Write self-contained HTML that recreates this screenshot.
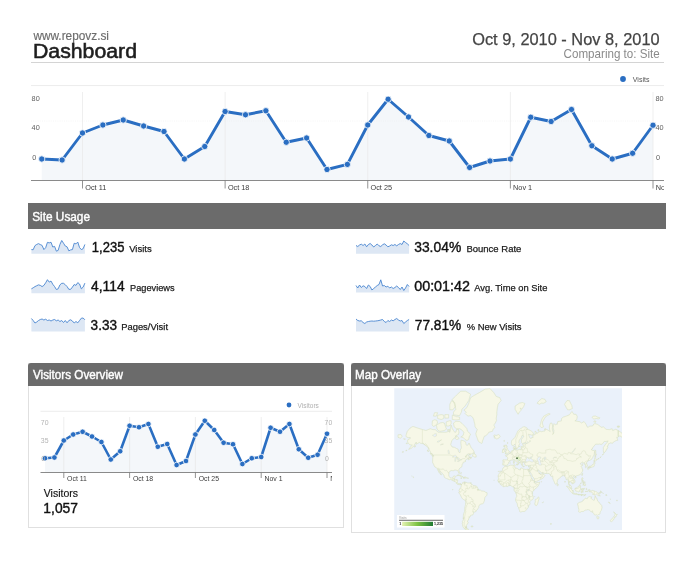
<!DOCTYPE html>
<html><head><meta charset="utf-8"><title>Dashboard</title>
<style>
html,body{margin:0;padding:0;background:#fff;}
body{width:700px;height:580px;position:relative;overflow:hidden;font-family:"Liberation Sans",sans-serif;color:#1a1a1a;}
.bar{position:absolute;background:#6b6b6b;color:#fff;}
svg{position:absolute;left:0;top:0;}
svg text{font-family:"Liberation Sans",sans-serif;}
.panel{position:absolute;border:1px solid #e0e0e0;box-sizing:border-box;background:#fff;}
</style></head><body>
<div style="position:absolute;left:31px;top:61.5px;width:633px;height:1px;background:#d4d4d4;"></div>

<div class="bar" style="left:28px;top:203.4px;width:637.5px;height:25.2px;"></div>

<div class="panel" style="left:28px;top:363px;width:316px;height:164.5px;"></div>
<div class="bar" style="left:28px;top:363px;width:316px;height:23px;border-radius:3px 3px 0 0;"></div>

<div class="panel" style="left:350.5px;top:363px;width:315.5px;height:170px;"></div>
<div class="bar" style="left:350.5px;top:363px;width:315.5px;height:23px;border-radius:3px 3px 0 0;"></div>

<svg width="700" height="580" viewBox="0 0 700 580">
<defs>
<clipPath id="c1"><rect x="31" y="70" width="633" height="125"/></clipPath>
<clipPath id="c2"><rect x="40" y="395" width="292" height="90"/></clipPath>
<clipPath id="cm"><rect x="394.25" y="388.25" width="227.75" height="141.75"/></clipPath>
<linearGradient id="lg" x1="0" x2="1" y1="0" y2="0"><stop offset="0" stop-color="#e4f2b4"/><stop offset="0.5" stop-color="#7cc242"/><stop offset="1" stop-color="#1f7a33"/></linearGradient>
</defs>
<g clip-path="url(#c1)">
<polygon points="41.75,159.00 62.12,160.00 82.50,133.00 102.88,125.00 123.25,120.00 143.62,126.00 164.00,131.50 184.38,159.00 204.75,146.50 225.12,111.50 245.50,114.75 265.88,110.75 286.25,142.25 306.62,138.00 327.00,169.50 347.38,164.40 367.75,125.00 388.12,99.25 408.50,117.00 428.88,135.50 449.25,141.00 469.62,167.50 490.00,161.00 510.38,159.00 530.75,117.25 551.12,121.50 571.50,109.50 591.88,145.75 612.25,159.00 632.62,153.25 653.00,125.25 653.00,180.5 41.75,180.5" fill="#f4f7fa"/>
<line x1="31" x2="664" y1="85.6" y2="85.6" stroke="#ececec" stroke-width="1"/>
<line x1="31" x2="653" y1="121" y2="121" stroke="#e4e4e4" stroke-width="0.8" stroke-dasharray="1,1.2" opacity="0.4"/>
<line x1="82.50" x2="82.50" y1="92" y2="180" stroke="#e8e8e8" stroke-width="0.7"/>
<line x1="225.12" x2="225.12" y1="92" y2="180" stroke="#e8e8e8" stroke-width="0.7"/>
<line x1="367.75" x2="367.75" y1="92" y2="180" stroke="#e8e8e8" stroke-width="0.7"/>
<line x1="510.38" x2="510.38" y1="92" y2="180" stroke="#e8e8e8" stroke-width="0.7"/>
<line x1="653.00" x2="653.00" y1="92" y2="180" stroke="#e8e8e8" stroke-width="0.7"/>
<line x1="31" x2="664" y1="180.5" y2="180.5" stroke="#8a8a8a" stroke-width="1.2"/>
<line x1="82.50" x2="82.50" y1="180.5" y2="188.5" stroke="#777" stroke-width="0.8"/>
<line x1="225.12" x2="225.12" y1="180.5" y2="188.5" stroke="#777" stroke-width="0.8"/>
<line x1="367.75" x2="367.75" y1="180.5" y2="188.5" stroke="#777" stroke-width="0.8"/>
<line x1="510.38" x2="510.38" y1="180.5" y2="188.5" stroke="#777" stroke-width="0.8"/>
<line x1="653.00" x2="653.00" y1="180.5" y2="188.5" stroke="#777" stroke-width="0.8"/>
<polyline points="41.75,159.00 62.12,160.00 82.50,133.00 102.88,125.00 123.25,120.00 143.62,126.00 164.00,131.50 184.38,159.00 204.75,146.50 225.12,111.50 245.50,114.75 265.88,110.75 286.25,142.25 306.62,138.00 327.00,169.50 347.38,164.40 367.75,125.00 388.12,99.25 408.50,117.00 428.88,135.50 449.25,141.00 469.62,167.50 490.00,161.00 510.38,159.00 530.75,117.25 551.12,121.50 571.50,109.50 591.88,145.75 612.25,159.00 632.62,153.25 653.00,125.25" fill="none" stroke="#2a6ec2" stroke-width="2.9" stroke-linejoin="round" stroke-linecap="round"/>
<circle cx="41.75" cy="159.00" r="3.15" fill="#2a6ec2" stroke="#fff" stroke-width="0.8"/>
<circle cx="62.12" cy="160.00" r="3.15" fill="#2a6ec2" stroke="#fff" stroke-width="0.8"/>
<circle cx="82.50" cy="133.00" r="3.15" fill="#2a6ec2" stroke="#fff" stroke-width="0.8"/>
<circle cx="102.88" cy="125.00" r="3.15" fill="#2a6ec2" stroke="#fff" stroke-width="0.8"/>
<circle cx="123.25" cy="120.00" r="3.15" fill="#2a6ec2" stroke="#fff" stroke-width="0.8"/>
<circle cx="143.62" cy="126.00" r="3.15" fill="#2a6ec2" stroke="#fff" stroke-width="0.8"/>
<circle cx="164.00" cy="131.50" r="3.15" fill="#2a6ec2" stroke="#fff" stroke-width="0.8"/>
<circle cx="184.38" cy="159.00" r="3.15" fill="#2a6ec2" stroke="#fff" stroke-width="0.8"/>
<circle cx="204.75" cy="146.50" r="3.15" fill="#2a6ec2" stroke="#fff" stroke-width="0.8"/>
<circle cx="225.12" cy="111.50" r="3.15" fill="#2a6ec2" stroke="#fff" stroke-width="0.8"/>
<circle cx="245.50" cy="114.75" r="3.15" fill="#2a6ec2" stroke="#fff" stroke-width="0.8"/>
<circle cx="265.88" cy="110.75" r="3.15" fill="#2a6ec2" stroke="#fff" stroke-width="0.8"/>
<circle cx="286.25" cy="142.25" r="3.15" fill="#2a6ec2" stroke="#fff" stroke-width="0.8"/>
<circle cx="306.62" cy="138.00" r="3.15" fill="#2a6ec2" stroke="#fff" stroke-width="0.8"/>
<circle cx="327.00" cy="169.50" r="3.15" fill="#2a6ec2" stroke="#fff" stroke-width="0.8"/>
<circle cx="347.38" cy="164.40" r="3.15" fill="#2a6ec2" stroke="#fff" stroke-width="0.8"/>
<circle cx="367.75" cy="125.00" r="3.15" fill="#2a6ec2" stroke="#fff" stroke-width="0.8"/>
<circle cx="388.12" cy="99.25" r="3.15" fill="#2a6ec2" stroke="#fff" stroke-width="0.8"/>
<circle cx="408.50" cy="117.00" r="3.15" fill="#2a6ec2" stroke="#fff" stroke-width="0.8"/>
<circle cx="428.88" cy="135.50" r="3.15" fill="#2a6ec2" stroke="#fff" stroke-width="0.8"/>
<circle cx="449.25" cy="141.00" r="3.15" fill="#2a6ec2" stroke="#fff" stroke-width="0.8"/>
<circle cx="469.62" cy="167.50" r="3.15" fill="#2a6ec2" stroke="#fff" stroke-width="0.8"/>
<circle cx="490.00" cy="161.00" r="3.15" fill="#2a6ec2" stroke="#fff" stroke-width="0.8"/>
<circle cx="510.38" cy="159.00" r="3.15" fill="#2a6ec2" stroke="#fff" stroke-width="0.8"/>
<circle cx="530.75" cy="117.25" r="3.15" fill="#2a6ec2" stroke="#fff" stroke-width="0.8"/>
<circle cx="551.12" cy="121.50" r="3.15" fill="#2a6ec2" stroke="#fff" stroke-width="0.8"/>
<circle cx="571.50" cy="109.50" r="3.15" fill="#2a6ec2" stroke="#fff" stroke-width="0.8"/>
<circle cx="591.88" cy="145.75" r="3.15" fill="#2a6ec2" stroke="#fff" stroke-width="0.8"/>
<circle cx="612.25" cy="159.00" r="3.15" fill="#2a6ec2" stroke="#fff" stroke-width="0.8"/>
<circle cx="632.62" cy="153.25" r="3.15" fill="#2a6ec2" stroke="#fff" stroke-width="0.8"/>
<circle cx="653.00" cy="125.25" r="3.15" fill="#2a6ec2" stroke="#fff" stroke-width="0.8"/>
<g font-size="7.3" fill="#5f5f5f">
<text x="31.6" y="100.5">80</text><text x="31.6" y="129.8">40</text><text x="32.2" y="159.6">0</text>
<text x="655.4" y="100.6">80</text><text x="655.4" y="129.8">40</text><text x="656" y="159.6">0</text>
</g>
<g font-size="7.3" fill="#3c3c3c">
<text x="85.3" y="190">Oct 11</text><text x="227.9" y="190">Oct 18</text><text x="370.5" y="190">Oct 25</text><text x="513.1" y="190">Nov 1</text><text x="655.7" y="190">Nov 8</text>
</g>
<circle cx="623" cy="79" r="2.9" fill="#2a6ec2"/>
</g>

<g clip-path="url(#c2)">
<polygon points="45.00,458.25 54.40,457.50 63.80,440.50 73.20,434.50 82.60,431.75 92.00,436.50 101.40,442.00 110.80,459.50 120.20,451.25 129.60,425.75 139.00,427.25 148.40,424.00 157.80,446.75 167.20,444.00 176.60,465.00 186.00,461.00 195.40,434.50 204.80,420.75 214.20,430.00 223.60,442.75 233.00,444.25 242.40,464.00 251.80,458.25 261.20,457.00 270.60,427.75 280.00,431.75 289.40,424.00 298.80,449.25 308.20,457.75 317.60,454.75 327.00,433.75 327.00,472.5 45.00,472.5" fill="#f4f7fa"/>
<line x1="40.5" x2="332" y1="411.25" y2="411.25" stroke="#ececec" stroke-width="1"/>
<line x1="63.80" x2="63.80" y1="417" y2="472" stroke="#e6e6e6" stroke-width="0.7"/>
<line x1="129.60" x2="129.60" y1="417" y2="472" stroke="#e6e6e6" stroke-width="0.7"/>
<line x1="195.40" x2="195.40" y1="417" y2="472" stroke="#e6e6e6" stroke-width="0.7"/>
<line x1="261.20" x2="261.20" y1="417" y2="472" stroke="#e6e6e6" stroke-width="0.7"/>
<line x1="327.00" x2="327.00" y1="417" y2="472" stroke="#e6e6e6" stroke-width="0.7"/>
<line x1="40.5" x2="332" y1="472.5" y2="472.5" stroke="#8a8a8a" stroke-width="1.2"/>
<line x1="63.80" x2="63.80" y1="472.5" y2="478" stroke="#777" stroke-width="0.8"/>
<line x1="129.60" x2="129.60" y1="472.5" y2="478" stroke="#777" stroke-width="0.8"/>
<line x1="195.40" x2="195.40" y1="472.5" y2="478" stroke="#777" stroke-width="0.8"/>
<line x1="261.20" x2="261.20" y1="472.5" y2="478" stroke="#777" stroke-width="0.8"/>
<line x1="327.00" x2="327.00" y1="472.5" y2="478" stroke="#777" stroke-width="0.8"/>
<polyline points="45.00,458.25 54.40,457.50 63.80,440.50 73.20,434.50 82.60,431.75 92.00,436.50 101.40,442.00 110.80,459.50 120.20,451.25 129.60,425.75 139.00,427.25 148.40,424.00 157.80,446.75 167.20,444.00 176.60,465.00 186.00,461.00 195.40,434.50 204.80,420.75 214.20,430.00 223.60,442.75 233.00,444.25 242.40,464.00 251.80,458.25 261.20,457.00 270.60,427.75 280.00,431.75 289.40,424.00 298.80,449.25 308.20,457.75 317.60,454.75 327.00,433.75" fill="none" stroke="#2a6ec2" stroke-width="2.6" stroke-linejoin="round" stroke-linecap="round"/>
<circle cx="45.00" cy="458.25" r="2.8" fill="#2a6ec2" stroke="#fff" stroke-width="0.8"/>
<circle cx="54.40" cy="457.50" r="2.8" fill="#2a6ec2" stroke="#fff" stroke-width="0.8"/>
<circle cx="63.80" cy="440.50" r="2.8" fill="#2a6ec2" stroke="#fff" stroke-width="0.8"/>
<circle cx="73.20" cy="434.50" r="2.8" fill="#2a6ec2" stroke="#fff" stroke-width="0.8"/>
<circle cx="82.60" cy="431.75" r="2.8" fill="#2a6ec2" stroke="#fff" stroke-width="0.8"/>
<circle cx="92.00" cy="436.50" r="2.8" fill="#2a6ec2" stroke="#fff" stroke-width="0.8"/>
<circle cx="101.40" cy="442.00" r="2.8" fill="#2a6ec2" stroke="#fff" stroke-width="0.8"/>
<circle cx="110.80" cy="459.50" r="2.8" fill="#2a6ec2" stroke="#fff" stroke-width="0.8"/>
<circle cx="120.20" cy="451.25" r="2.8" fill="#2a6ec2" stroke="#fff" stroke-width="0.8"/>
<circle cx="129.60" cy="425.75" r="2.8" fill="#2a6ec2" stroke="#fff" stroke-width="0.8"/>
<circle cx="139.00" cy="427.25" r="2.8" fill="#2a6ec2" stroke="#fff" stroke-width="0.8"/>
<circle cx="148.40" cy="424.00" r="2.8" fill="#2a6ec2" stroke="#fff" stroke-width="0.8"/>
<circle cx="157.80" cy="446.75" r="2.8" fill="#2a6ec2" stroke="#fff" stroke-width="0.8"/>
<circle cx="167.20" cy="444.00" r="2.8" fill="#2a6ec2" stroke="#fff" stroke-width="0.8"/>
<circle cx="176.60" cy="465.00" r="2.8" fill="#2a6ec2" stroke="#fff" stroke-width="0.8"/>
<circle cx="186.00" cy="461.00" r="2.8" fill="#2a6ec2" stroke="#fff" stroke-width="0.8"/>
<circle cx="195.40" cy="434.50" r="2.8" fill="#2a6ec2" stroke="#fff" stroke-width="0.8"/>
<circle cx="204.80" cy="420.75" r="2.8" fill="#2a6ec2" stroke="#fff" stroke-width="0.8"/>
<circle cx="214.20" cy="430.00" r="2.8" fill="#2a6ec2" stroke="#fff" stroke-width="0.8"/>
<circle cx="223.60" cy="442.75" r="2.8" fill="#2a6ec2" stroke="#fff" stroke-width="0.8"/>
<circle cx="233.00" cy="444.25" r="2.8" fill="#2a6ec2" stroke="#fff" stroke-width="0.8"/>
<circle cx="242.40" cy="464.00" r="2.8" fill="#2a6ec2" stroke="#fff" stroke-width="0.8"/>
<circle cx="251.80" cy="458.25" r="2.8" fill="#2a6ec2" stroke="#fff" stroke-width="0.8"/>
<circle cx="261.20" cy="457.00" r="2.8" fill="#2a6ec2" stroke="#fff" stroke-width="0.8"/>
<circle cx="270.60" cy="427.75" r="2.8" fill="#2a6ec2" stroke="#fff" stroke-width="0.8"/>
<circle cx="280.00" cy="431.75" r="2.8" fill="#2a6ec2" stroke="#fff" stroke-width="0.8"/>
<circle cx="289.40" cy="424.00" r="2.8" fill="#2a6ec2" stroke="#fff" stroke-width="0.8"/>
<circle cx="298.80" cy="449.25" r="2.8" fill="#2a6ec2" stroke="#fff" stroke-width="0.8"/>
<circle cx="308.20" cy="457.75" r="2.8" fill="#2a6ec2" stroke="#fff" stroke-width="0.8"/>
<circle cx="317.60" cy="454.75" r="2.8" fill="#2a6ec2" stroke="#fff" stroke-width="0.8"/>
<circle cx="327.00" cy="433.75" r="2.8" fill="#2a6ec2" stroke="#fff" stroke-width="0.8"/>
<g font-size="6.9" fill="#b4b4b4">
<text x="40.8" y="424.9">70</text><text x="40.8" y="443">35</text><text x="41.2" y="461.4">0</text>
<text x="324.6" y="424.9">70</text><text x="324.6" y="443">35</text><text x="325" y="461.4">0</text>
</g>
<g font-size="6.9" fill="#3c3c3c">
<text x="67.1" y="481.4">Oct 11</text><text x="132.9" y="481.4">Oct 18</text><text x="198.7" y="481.4">Oct 25</text><text x="264.5" y="481.4">Nov 1</text><text x="330.3" y="481.4">Nov 8</text>
</g>
<circle cx="289" cy="405" r="2.4" fill="#2a6ec2"/>
</g>

<polygon points="31.40,249.58 33.18,249.73 34.97,245.63 36.75,244.41 38.53,243.65 40.32,244.57 42.10,245.40 43.88,249.58 45.67,247.68 47.45,242.36 49.23,242.86 51.02,242.25 52.80,247.04 54.58,246.39 56.37,251.18 58.15,250.40 59.93,244.41 61.72,240.50 63.50,243.20 65.28,246.01 67.07,246.85 68.85,250.87 70.63,249.89 72.42,249.58 74.20,243.24 75.98,243.88 77.77,242.06 79.55,247.57 81.33,249.58 83.12,248.71 84.90,244.45 84.90,253.80 31.40,253.80" fill="#dde7f4"/><polyline points="31.40,249.58 33.18,249.73 34.97,245.63 36.75,244.41 38.53,243.65 40.32,244.57 42.10,245.40 43.88,249.58 45.67,247.68 47.45,242.36 49.23,242.86 51.02,242.25 52.80,247.04 54.58,246.39 56.37,251.18 58.15,250.40 59.93,244.41 61.72,240.50 63.50,243.20 65.28,246.01 67.07,246.85 68.85,250.87 70.63,249.89 72.42,249.58 74.20,243.24 75.98,243.88 77.77,242.06 79.55,247.57 81.33,249.58 83.12,248.71 84.90,244.45" fill="none" stroke="#4a86d0" stroke-width="0.9" stroke-linejoin="round"/><polygon points="31.40,288.83 33.18,287.79 34.97,286.59 36.75,285.72 38.53,284.86 40.32,285.38 42.10,286.59 43.88,285.38 45.67,282.79 47.45,279.69 49.23,282.10 51.02,281.07 52.80,284.34 54.58,286.59 56.37,289.52 58.15,288.83 59.93,284.86 61.72,283.31 63.50,283.31 65.28,284.69 67.07,286.59 68.85,289.34 70.63,289.34 72.42,287.10 74.20,284.52 75.98,285.38 77.77,282.62 79.55,284.00 81.33,288.83 83.12,287.10 84.90,283.14 84.90,293.20 31.40,293.20" fill="#dde7f4"/><polyline points="31.40,288.83 33.18,287.79 34.97,286.59 36.75,285.72 38.53,284.86 40.32,285.38 42.10,286.59 43.88,285.38 45.67,282.79 47.45,279.69 49.23,282.10 51.02,281.07 52.80,284.34 54.58,286.59 56.37,289.52 58.15,288.83 59.93,284.86 61.72,283.31 63.50,283.31 65.28,284.69 67.07,286.59 68.85,289.34 70.63,289.34 72.42,287.10 74.20,284.52 75.98,285.38 77.77,282.62 79.55,284.00 81.33,288.83 83.12,287.10 84.90,283.14" fill="none" stroke="#4a86d0" stroke-width="0.9" stroke-linejoin="round"/><polygon points="31.40,318.50 33.18,320.50 34.97,323.00 36.75,322.00 38.53,320.50 40.32,319.50 42.10,319.00 43.88,320.00 45.67,319.20 47.45,320.50 49.23,320.00 51.02,321.00 52.80,320.00 54.58,319.50 56.37,320.80 58.15,320.00 59.93,321.50 61.72,320.50 63.50,322.50 65.28,320.50 67.07,322.80 68.85,320.50 70.63,319.80 72.42,321.00 74.20,323.00 75.98,321.50 77.77,322.80 79.55,320.50 81.33,318.20 83.12,318.00 84.90,319.80 84.90,331.40 31.40,331.40" fill="#dde7f4"/><polyline points="31.40,318.50 33.18,320.50 34.97,323.00 36.75,322.00 38.53,320.50 40.32,319.50 42.10,319.00 43.88,320.00 45.67,319.20 47.45,320.50 49.23,320.00 51.02,321.00 52.80,320.00 54.58,319.50 56.37,320.80 58.15,320.00 59.93,321.50 61.72,320.50 63.50,322.50 65.28,320.50 67.07,322.80 68.85,320.50 70.63,319.80 72.42,321.00 74.20,323.00 75.98,321.50 77.77,322.80 79.55,320.50 81.33,318.20 83.12,318.00 84.90,319.80" fill="none" stroke="#4a86d0" stroke-width="0.9" stroke-linejoin="round"/><polygon points="356.00,245.50 357.77,246.50 359.54,245.00 361.31,244.20 363.08,245.50 364.85,244.00 366.62,246.80 368.39,244.50 370.16,243.50 371.93,245.00 373.70,247.00 375.47,245.50 377.24,244.00 379.01,245.80 380.78,246.50 382.55,244.80 384.32,243.80 386.09,245.00 387.86,246.80 389.63,246.00 391.40,244.80 393.17,245.50 394.94,244.50 396.71,245.80 398.48,244.50 400.25,243.50 402.02,244.50 403.79,241.00 405.56,242.50 407.33,243.80 409.10,245.50 409.10,253.80 356.00,253.80" fill="#dde7f4"/><polyline points="356.00,245.50 357.77,246.50 359.54,245.00 361.31,244.20 363.08,245.50 364.85,244.00 366.62,246.80 368.39,244.50 370.16,243.50 371.93,245.00 373.70,247.00 375.47,245.50 377.24,244.00 379.01,245.80 380.78,246.50 382.55,244.80 384.32,243.80 386.09,245.00 387.86,246.80 389.63,246.00 391.40,244.80 393.17,245.50 394.94,244.50 396.71,245.80 398.48,244.50 400.25,243.50 402.02,244.50 403.79,241.00 405.56,242.50 407.33,243.80 409.10,245.50" fill="none" stroke="#4a86d0" stroke-width="0.9" stroke-linejoin="round"/><polygon points="356.00,285.50 357.77,288.00 359.54,285.00 361.31,287.50 363.08,285.80 364.85,286.50 366.62,288.50 368.39,285.00 370.16,286.50 371.93,290.00 373.70,288.50 375.47,287.00 377.24,285.50 379.01,284.50 380.78,279.80 382.55,286.00 384.32,285.50 386.09,287.00 387.86,286.20 389.63,288.00 391.40,287.00 393.17,288.50 394.94,287.50 396.71,286.00 398.48,287.50 400.25,289.50 402.02,287.00 403.79,290.50 405.56,288.00 407.33,284.50 409.10,286.50 409.10,292.60 356.00,292.60" fill="#dde7f4"/><polyline points="356.00,285.50 357.77,288.00 359.54,285.00 361.31,287.50 363.08,285.80 364.85,286.50 366.62,288.50 368.39,285.00 370.16,286.50 371.93,290.00 373.70,288.50 375.47,287.00 377.24,285.50 379.01,284.50 380.78,279.80 382.55,286.00 384.32,285.50 386.09,287.00 387.86,286.20 389.63,288.00 391.40,287.00 393.17,288.50 394.94,287.50 396.71,286.00 398.48,287.50 400.25,289.50 402.02,287.00 403.79,290.50 405.56,288.00 407.33,284.50 409.10,286.50" fill="none" stroke="#4a86d0" stroke-width="0.9" stroke-linejoin="round"/><polygon points="356.00,319.00 357.77,320.50 359.54,321.00 361.31,320.80 363.08,322.50 364.85,323.50 366.62,322.00 368.39,321.50 370.16,321.20 371.93,321.00 373.70,321.20 375.47,321.00 377.24,320.80 379.01,320.50 380.78,320.00 382.55,319.50 384.32,321.50 386.09,322.50 387.86,320.50 389.63,321.50 391.40,320.00 393.17,320.80 394.94,319.50 396.71,318.50 398.48,320.00 400.25,321.00 402.02,320.50 403.79,323.50 405.56,322.00 407.33,320.50 409.10,319.50 409.10,331.40 356.00,331.40" fill="#dde7f4"/><polyline points="356.00,319.00 357.77,320.50 359.54,321.00 361.31,320.80 363.08,322.50 364.85,323.50 366.62,322.00 368.39,321.50 370.16,321.20 371.93,321.00 373.70,321.20 375.47,321.00 377.24,320.80 379.01,320.50 380.78,320.00 382.55,319.50 384.32,321.50 386.09,322.50 387.86,320.50 389.63,321.50 391.40,320.00 393.17,320.80 394.94,319.50 396.71,318.50 398.48,320.00 400.25,321.00 402.02,320.50 403.79,323.50 405.56,322.00 407.33,320.50 409.10,319.50" fill="none" stroke="#4a86d0" stroke-width="0.9" stroke-linejoin="round"/>

<rect x="394.25" y="388.25" width="227.75" height="141.75" fill="#eaf1fa"/>
<g clip-path="url(#cm)">
<path fill="#f6f7e7" stroke="#d7dfbf" stroke-width="0.55" stroke-linejoin="round" d="M405.9 436.0 407.1 431.7 409.9 428.2 412.9 426.4 416.9 427.8 422.4 429.5 426.0 430.5 430.3 428.7 432.8 429.6 435.2 429.6 438.2 432.2 442.5 432.2 446.2 432.2 448.6 431.3 449.8 432.2 450.4 428.7 451.1 425.0 452.3 428.7 453.5 430.5 454.7 432.2 455.9 432.2 456.5 429.6 458.4 429.3 459.0 432.2 458.4 434.5 456.5 435.3 455.3 437.5 453.2 438.9 451.7 440.9 450.7 444.6 452.0 446.9 454.7 447.4 456.5 448.5 458.1 449.1 458.4 451.3 459.6 452.9 460.2 452.1 460.2 450.1 461.4 448.0 461.1 445.2 460.8 442.8 461.1 440.2 463.9 440.9 465.7 442.1 466.0 444.8 467.2 445.4 468.1 444.9 469.0 443.0 470.3 445.7 471.2 448.0 473.0 449.6 474.2 452.1 473.3 452.8 471.8 453.9 470.0 453.9 467.8 453.9 466.3 455.5 465.1 456.9 466.9 455.2 468.7 455.0 469.0 456.4 468.7 457.3 469.7 457.7 471.2 457.0 471.7 457.9 469.7 459.0 468.3 459.9 468.1 459.0 469.0 458.2 467.5 458.6 466.3 459.5 465.4 460.1 465.2 461.1 465.7 461.4 464.5 461.8 463.2 462.3 462.9 463.3 462.3 464.3 462.0 465.1 462.0 466.6 460.8 467.4 459.9 468.1 459.0 469.1 458.8 470.2 459.5 472.3 459.4 473.4 458.9 473.4 458.4 472.3 457.9 470.9 457.1 470.2 456.2 470.3 455.0 469.9 454.1 470.1 453.8 470.8 452.9 470.7 451.1 470.5 449.8 471.3 449.0 472.3 448.9 473.6 448.7 475.3 449.2 476.6 450.0 477.7 451.1 478.1 452.3 477.8 453.0 477.4 453.3 476.3 454.7 475.9 455.4 476.1 455.0 477.3 454.7 478.2 454.2 479.5 455.0 479.6 457.1 479.6 457.6 480.3 457.4 481.7 457.3 482.6 458.1 483.7 459.0 484.0 459.9 483.6 460.8 483.7 461.2 484.1 461.1 484.8 460.6 484.4 459.9 483.9 459.4 484.9 458.7 484.6 457.8 484.3 457.3 484.0 456.2 483.3 456.1 482.5 455.0 481.4 454.4 481.2 452.9 480.8 451.7 479.8 450.7 479.4 449.5 479.7 448.0 479.1 446.5 478.5 445.1 477.8 444.0 476.9 444.2 476.0 443.7 475.0 442.5 473.6 441.7 472.6 441.0 471.9 439.9 470.9 439.5 469.5 438.4 469.0 438.5 470.1 439.2 471.0 439.8 471.9 440.7 473.3 441.1 474.3 441.6 475.0 441.2 475.0 440.1 473.8 439.9 472.8 438.7 472.3 438.5 471.4 437.6 469.8 437.0 468.4 436.2 467.5 434.9 467.0 434.1 465.5 433.7 464.5 432.9 463.1 432.6 462.4 432.6 460.3 432.8 457.7 432.3 455.7 433.7 456.4 433.5 455.0 432.4 454.1 430.9 453.1 430.3 451.6 429.1 449.6 428.2 448.0 427.0 446.3 425.1 445.2 424.2 444.3 423.0 443.6 420.9 443.4 419.3 442.4 417.8 443.4 416.0 444.2 416.3 442.1 414.8 444.2 414.1 445.7 412.9 446.9 411.7 448.0 410.2 448.8 408.7 449.4 409.6 448.2 411.1 446.3 412.3 444.9 410.8 444.9 409.6 444.6 408.0 442.8 407.4 441.2 408.0 439.5 410.2 438.6 410.2 437.5 408.7 437.5 406.8 437.2 405.9 436.0Z M459.6 421.5 462.0 423.4 464.5 426.0 466.9 428.7 467.5 431.3 470.6 434.1 469.3 436.7 468.7 439.5 466.9 440.5 465.1 439.5 463.2 437.5 460.8 437.0 463.2 435.3 463.9 432.2 461.4 429.6 459.6 428.7 456.5 428.7 454.1 426.9 453.5 423.0 455.9 421.3 459.6 421.5Z M453.5 414.8 456.5 415.3 459.6 415.6 461.4 412.1 462.0 409.2 465.1 406.0 468.7 400.6 470.6 394.2 465.7 391.2 460.8 391.2 456.5 395.1 452.3 399.4 454.7 404.3 455.9 409.2 453.5 412.1 453.5 414.8Z M437.0 428.7 438.2 430.5 440.1 431.3 442.5 430.8 444.3 430.5 446.5 429.1 445.6 426.9 444.3 423.0 442.5 422.5 440.1 423.0 438.2 424.0 436.4 425.0 437.0 428.7Z M432.1 425.0 433.4 426.4 435.2 425.8 437.6 423.0 437.0 420.4 434.6 419.7 432.4 420.8 432.1 425.0Z M452.3 419.5 455.9 419.9 459.6 419.5 459.6 417.1 456.5 416.6 452.3 415.1 452.3 419.5Z M437.6 418.5 441.3 419.5 443.7 418.5 443.7 415.1 441.3 414.6 437.6 415.3 437.6 418.5Z M446.2 426.0 449.2 426.0 451.1 424.0 451.1 420.8 449.2 420.8 446.2 421.9 446.2 426.0Z M449.8 409.8 452.9 409.8 455.3 406.6 454.7 402.5 451.7 400.6 449.8 404.3 449.8 409.8Z M444.9 418.1 448.6 418.1 448.6 414.6 444.9 414.6Z M433.4 416.1 436.4 416.1 437.6 412.7 434.6 412.7Z M447.7 430.8 449.8 431.2 449.8 429.5 447.7 429.5Z M455.3 435.9 457.1 436.3 459.0 438.2 458.4 439.1 456.5 439.5 455.2 438.4 456.2 437.3 455.3 435.9Z M472.2 456.2 473.6 456.3 474.5 457.0 476.1 457.1 476.2 456.2 475.8 454.7 474.5 454.1 474.5 452.6 473.6 453.1 473.1 454.3 472.2 456.2Z M430.1 453.3 432.0 453.9 433.1 455.6 432.0 455.3 430.6 454.3Z M469.0 454.2 470.7 454.9 469.7 454.7Z M469.2 457.0 470.6 457.4 470.3 457.7Z M427.3 450.1 428.1 450.1 428.4 451.9 427.7 451.1Z M414.1 446.3 415.5 445.7 415.4 446.7 414.4 447.1Z M405.9 450.5 407.0 450.1 406.8 450.5 405.9 450.9Z M402.2 451.9 403.5 451.7 403.5 452.1 402.2 452.2Z M403.7 438.7 405.4 439.1 404.8 439.5 403.7 439.1Z M406.3 443.1 407.3 443.0 407.3 443.6 406.3 443.6Z M463.9 410.1 466.9 407.6 468.7 403.5 470.6 397.7 474.8 395.1 480.9 391.7 485.2 389.1 490.1 388.6 493.8 392.7 496.2 396.4 499.8 397.7 501.1 400.6 498.0 404.3 497.4 407.6 496.8 412.1 496.8 414.8 496.2 418.5 496.5 420.4 495.3 423.0 493.8 425.0 495.0 427.5 493.1 429.1 492.5 431.3 490.4 431.8 488.9 432.2 487.3 434.5 485.8 435.6 484.0 436.5 483.4 438.9 482.5 440.9 482.2 442.8 481.6 443.5 480.3 442.6 479.1 442.1 477.9 440.2 477.3 438.2 476.4 436.0 475.8 433.7 476.7 431.0 477.3 429.6 475.8 427.8 475.1 426.9 474.8 424.0 474.2 421.9 473.6 419.2 472.7 417.3 470.6 415.6 468.1 416.1 466.3 414.8 465.1 413.5 466.3 412.1 463.9 410.1Z M493.6 436.0 494.7 434.7 495.9 435.7 497.4 435.0 498.6 434.5 499.5 435.3 500.2 436.7 499.2 437.7 497.7 438.6 496.8 439.0 495.6 438.4 494.7 438.3 495.0 437.0 493.8 436.9 494.8 436.3 493.6 436.0Z M456.5 475.8 457.8 475.0 458.7 474.9 459.9 475.3 461.1 475.8 462.3 476.4 463.1 476.8 462.3 477.0 461.1 477.0 460.8 476.5 460.2 476.0 459.0 475.6 458.1 475.4 457.1 475.7 456.5 475.8Z M463.0 477.9 464.0 477.9 463.7 477.1 464.7 477.1 465.7 477.1 466.7 477.8 465.7 478.0 464.8 478.4 464.2 478.1 463.0 477.9Z M460.6 478.0 461.8 478.1 461.7 478.4 460.7 478.2Z M467.4 477.9 468.4 478.0 468.3 478.3 467.4 478.2Z M460.7 473.5 461.0 473.5 461.1 474.2 460.7 474.0Z M460.9 472.4 461.4 472.6 461.4 472.8 460.9 472.6Z M470.6 482.8 471.2 482.8 471.2 483.2 470.6 483.2Z M461.2 484.1 461.5 484.5 462.3 483.6 462.3 482.8 463.1 482.5 464.2 482.1 464.7 481.8 464.7 482.6 464.5 483.4 465.0 483.6 464.9 482.8 465.7 482.3 465.7 482.0 466.6 482.5 466.9 482.9 468.1 482.9 469.0 483.1 470.1 482.8 470.7 483.3 471.2 483.9 471.8 484.2 472.7 485.1 473.6 485.7 474.8 485.7 476.7 486.3 477.3 487.0 477.9 488.3 477.4 489.3 478.2 489.3 478.8 489.5 478.9 490.2 480.3 490.0 481.4 490.9 482.8 491.1 484.0 491.2 484.9 491.7 485.8 492.4 486.9 492.6 487.1 493.8 486.9 495.2 485.8 496.3 484.9 497.4 484.6 498.7 484.5 500.2 484.1 501.5 483.4 503.2 482.8 503.8 481.2 504.0 480.1 504.5 479.1 505.4 478.7 506.2 478.7 507.5 477.9 508.6 477.2 509.7 476.5 510.4 475.8 511.5 475.0 512.1 473.9 512.1 472.8 511.5 473.4 512.4 473.6 513.3 473.2 514.5 472.1 515.1 470.6 515.3 470.4 516.5 469.3 516.8 468.7 516.9 469.5 517.9 468.7 518.5 468.4 520.2 467.2 521.1 468.1 522.4 468.1 522.9 467.2 524.3 466.3 525.7 466.7 527.1 465.4 527.3 466.6 527.7 467.2 528.7 468.6 529.4 467.8 530.0 466.6 530.3 465.4 529.7 464.5 528.7 463.6 527.7 462.9 526.7 462.5 524.7 462.3 523.3 462.9 522.0 462.3 521.5 463.2 520.2 463.9 517.7 463.4 516.9 463.4 515.3 463.6 514.1 463.9 513.3 464.5 511.5 464.8 510.0 464.7 508.6 464.9 507.2 465.3 505.8 465.5 504.2 465.6 502.5 465.5 500.9 464.8 500.1 463.6 499.5 462.3 498.5 461.8 497.8 461.3 496.8 460.5 495.2 459.9 494.0 459.0 493.1 458.8 492.1 459.6 491.4 459.1 490.8 459.0 490.0 459.6 489.3 459.6 488.9 460.3 488.5 460.6 487.8 461.2 487.1 461.1 486.0 461.2 485.1 460.9 484.9 461.2 484.1Z M471.2 526.0 473.0 526.0 473.0 526.7 471.2 526.9Z M504.8 466.0 505.9 466.4 507.2 466.5 508.4 466.0 510.2 465.2 512.0 465.2 513.6 465.2 514.5 464.8 515.1 465.1 514.8 466.0 514.6 467.1 515.2 467.8 516.0 468.2 517.5 468.5 518.0 469.2 519.1 469.6 520.3 470.0 520.6 469.1 520.6 468.3 521.5 468.1 522.4 468.3 523.6 469.1 524.9 469.3 526.1 469.6 527.0 469.1 528.1 469.3 528.2 470.2 528.4 471.0 528.9 471.7 529.4 473.1 530.0 474.3 530.8 475.6 531.1 476.4 531.1 477.7 531.9 478.2 532.5 479.8 533.4 480.5 534.3 481.3 534.7 481.7 534.6 482.3 535.5 483.0 537.1 482.5 538.3 482.5 539.6 482.1 539.5 483.0 538.9 484.5 538.3 485.7 537.7 486.7 536.4 487.9 535.2 488.8 534.3 489.7 533.7 490.5 532.8 491.2 532.4 492.3 532.1 493.4 532.5 494.0 532.4 494.8 532.8 495.8 533.1 496.2 533.2 497.4 533.2 498.7 532.5 499.6 531.0 500.4 529.7 501.7 529.7 502.2 530.0 503.2 530.0 504.5 528.5 505.5 528.5 506.2 528.2 507.5 527.3 508.6 526.7 509.7 525.8 510.5 524.9 511.3 523.9 511.5 522.4 511.5 521.8 511.7 520.6 512.1 519.6 511.6 519.6 510.6 519.1 509.3 518.5 507.5 517.7 506.5 517.5 505.2 517.2 503.5 516.4 502.2 515.7 500.6 515.6 499.3 516.0 497.7 516.7 496.8 516.8 495.8 516.3 494.9 516.5 494.5 515.8 493.1 515.7 492.5 515.1 491.7 514.2 490.8 513.9 489.9 514.2 489.2 514.2 488.2 514.4 487.4 514.2 487.0 513.6 486.7 512.7 486.7 512.0 486.8 511.4 486.0 511.1 485.5 509.9 485.5 509.3 485.6 508.4 485.9 507.2 486.5 506.3 486.2 505.6 486.2 504.7 486.5 503.8 486.7 502.9 486.3 502.0 485.5 501.4 485.2 500.6 484.5 500.3 484.2 500.2 483.4 499.4 482.8 499.2 482.6 498.2 481.7 498.1 481.1 497.7 480.3 498.3 479.5 498.5 478.6 498.4 477.6 498.3 476.6 498.0 476.3 498.3 475.4 498.6 474.5 499.2 473.6 499.5 473.0 500.2 472.3 500.5 471.8 501.4 471.4 502.2 470.8 502.4 470.3 502.5 469.1 502.9 468.3 503.2 467.8 504.2 467.3 504.6 466.6 504.8 466.0Z M538.5 496.8 538.9 497.7 539.1 499.0 538.6 499.9 538.3 501.2 537.9 502.8 537.4 504.5 536.9 505.3 536.1 505.5 535.2 505.2 534.9 504.2 534.8 503.2 535.4 501.9 535.2 500.6 535.4 499.4 536.1 499.3 536.8 499.0 537.5 498.3 537.7 497.7 538.2 497.1 538.5 496.8Z M502.9 465.1 502.6 463.8 503.0 462.7 503.0 461.5 502.8 460.1 503.5 459.7 504.7 459.8 506.3 459.9 507.3 460.0 507.7 458.9 507.7 457.7 506.9 456.6 505.8 456.1 505.5 455.6 506.6 455.2 507.4 455.4 507.3 454.4 507.8 454.6 508.5 454.5 509.3 453.9 509.4 453.2 509.9 453.0 510.5 452.7 511.0 451.9 511.3 451.1 512.0 450.7 512.7 450.6 513.5 450.5 513.8 449.9 513.6 449.1 513.4 448.5 513.4 446.9 514.2 446.7 514.8 446.1 514.7 447.2 515.0 447.8 514.5 448.5 514.4 449.1 514.5 449.6 515.1 450.1 516.0 449.7 516.9 450.1 518.1 449.8 519.7 449.4 520.5 449.6 521.2 448.7 521.2 447.8 521.2 446.9 521.7 446.2 522.1 446.1 522.6 446.9 523.2 446.5 523.2 445.4 522.7 444.9 522.7 444.3 523.9 443.9 525.5 443.9 526.7 443.4 525.9 442.8 524.2 442.9 522.4 443.5 521.5 442.6 521.4 441.5 521.5 439.5 522.4 438.2 523.6 436.7 523.8 436.0 523.0 435.6 521.8 435.7 521.4 437.5 520.6 438.7 519.6 439.8 519.1 440.9 518.9 442.5 519.9 443.6 519.1 444.9 518.5 446.0 518.5 446.9 518.1 447.8 517.2 448.0 517.1 448.5 516.2 448.6 516.0 447.4 515.6 446.1 515.2 444.6 514.8 444.0 514.2 444.7 513.3 445.6 512.4 445.6 511.7 444.7 511.4 443.4 511.4 442.1 511.6 440.9 512.7 439.5 513.6 438.9 514.8 437.5 515.7 436.0 516.3 434.5 517.2 432.6 517.5 431.3 518.5 430.8 519.7 429.1 521.2 428.4 522.4 427.3 524.1 426.7 525.8 427.3 526.7 427.7 527.3 428.4 526.7 429.3 528.5 429.6 530.4 430.5 531.6 431.3 532.8 432.3 533.4 433.0 533.4 434.1 533.1 434.8 531.6 435.1 529.7 434.5 528.5 434.2 529.1 436.0 529.6 437.5 530.4 438.2 531.3 438.4 531.6 437.6 533.1 437.5 532.8 436.0 532.8 435.3 534.3 434.7 535.2 434.5 535.2 433.0 534.9 431.3 535.8 431.5 536.4 432.2 536.8 433.7 537.7 432.6 538.9 431.8 540.7 431.3 541.6 431.7 543.2 431.2 545.0 431.0 545.3 429.1 546.8 429.5 548.6 430.5 550.2 431.7 549.6 429.6 549.3 426.9 549.9 424.4 550.5 423.0 552.0 423.2 552.6 426.0 552.3 428.7 552.8 431.3 553.4 433.0 552.6 434.5 553.8 433.0 553.8 430.5 553.2 427.8 553.5 425.0 554.1 423.6 555.4 425.0 556.3 424.2 557.2 424.4 557.8 421.5 559.6 421.3 561.5 420.8 561.5 418.5 563.3 417.1 566.3 416.1 569.4 414.8 571.8 411.5 573.0 412.7 573.7 414.3 576.1 414.3 577.3 416.6 576.7 419.7 574.9 420.8 577.3 421.3 579.8 421.7 581.6 423.0 584.0 421.5 585.9 424.0 587.1 426.9 588.3 427.3 589.5 426.0 590.7 426.0 592.6 426.0 593.8 424.0 595.0 423.6 597.5 424.4 599.9 426.0 601.1 427.3 603.5 426.9 606.0 429.3 607.2 429.5 609.6 429.6 612.1 428.7 612.7 430.5 615.8 429.3 618.2 430.5 618.2 436.5 617.6 437.5 616.7 437.2 617.3 438.9 617.9 440.2 616.4 440.5 615.1 441.1 613.3 442.1 612.4 443.4 610.9 442.8 609.6 443.4 608.7 443.6 608.1 445.7 607.2 446.0 607.8 447.4 607.2 448.0 607.2 449.1 606.2 449.6 606.0 451.1 605.1 451.6 604.0 453.1 603.5 452.1 603.4 450.6 603.4 449.1 603.4 447.4 604.5 445.7 605.7 444.0 606.9 442.8 608.1 440.9 606.0 441.5 604.2 441.4 602.6 443.7 601.1 444.6 599.9 444.0 598.7 444.2 596.8 444.2 595.6 444.2 593.8 446.3 592.9 447.4 592.3 449.1 591.0 449.4 592.3 450.3 594.1 450.6 594.6 451.6 594.4 453.1 594.1 455.0 593.2 456.4 592.6 457.7 591.7 459.0 590.7 460.0 589.5 460.5 588.9 460.1 588.0 460.7 587.5 461.7 586.8 462.5 586.2 462.9 586.8 463.9 587.3 465.1 587.4 465.8 587.3 466.4 586.5 466.7 585.6 467.0 585.4 466.2 585.7 465.1 585.2 464.5 584.6 464.3 584.8 463.1 584.2 462.8 583.4 463.1 582.7 463.5 582.8 462.3 582.4 462.0 581.3 462.9 580.4 463.4 580.2 463.9 580.9 464.5 581.3 464.9 582.2 464.6 583.1 464.9 582.2 465.5 581.6 465.8 581.2 466.6 581.9 467.7 582.2 468.8 582.8 469.5 582.2 469.8 582.8 470.2 582.5 471.3 581.9 472.3 581.3 473.3 580.4 474.0 579.5 475.0 578.5 475.2 577.6 475.5 576.7 475.8 575.8 476.1 575.7 476.7 575.3 476.6 575.4 476.0 574.6 475.8 573.7 476.3 573.4 476.9 572.9 477.6 573.4 478.6 574.0 479.2 574.8 480.1 575.0 481.4 575.0 482.3 574.3 482.8 573.7 483.0 573.4 483.6 572.6 484.0 572.3 483.4 572.4 483.1 571.8 483.0 571.2 482.6 570.9 482.0 570.3 481.6 569.9 481.2 569.4 481.2 569.4 482.0 569.0 483.0 569.0 483.6 569.4 484.2 569.7 485.0 570.3 485.2 570.8 485.6 571.3 486.3 571.5 486.8 571.5 487.7 572.0 488.5 571.5 488.5 570.8 488.1 570.2 487.6 569.7 487.0 569.6 485.9 569.2 485.3 568.6 484.5 568.4 484.4 568.5 483.6 568.5 483.0 568.6 482.0 568.3 481.1 568.0 480.1 567.9 479.4 567.6 478.9 567.0 479.0 566.5 479.6 566.0 479.5 566.0 478.6 565.9 477.9 565.4 477.1 564.7 476.3 564.4 475.4 563.6 475.2 563.3 475.6 562.4 475.8 561.5 476.1 561.3 476.6 561.0 476.9 560.2 477.3 559.3 478.2 558.6 479.1 557.8 479.5 557.3 479.8 557.2 480.8 557.4 481.4 557.1 482.3 557.1 483.1 556.6 483.7 556.1 484.0 555.7 484.4 555.1 483.9 554.9 483.6 554.4 482.3 554.1 481.7 553.8 480.8 553.2 479.5 552.9 478.6 552.8 477.6 552.7 476.6 552.7 476.2 552.5 475.8 552.3 476.3 551.7 476.5 551.4 476.4 550.6 475.8 550.5 475.4 551.1 475.1 550.5 475.0 550.2 474.6 549.6 474.3 549.4 473.8 549.0 473.4 547.7 473.5 546.0 473.5 544.7 473.4 543.3 473.2 543.0 472.3 542.2 472.5 541.6 472.6 541.0 472.3 540.4 471.9 539.8 471.6 539.3 470.6 538.9 470.1 538.1 470.1 537.7 470.3 537.8 471.0 538.2 471.7 538.8 472.4 539.0 472.6 539.0 473.3 539.4 473.8 539.5 473.0 539.9 473.1 539.8 474.0 540.4 474.2 541.3 474.2 542.1 473.4 542.7 472.8 542.8 473.7 543.2 474.3 544.2 474.6 544.9 475.3 544.4 476.2 544.1 476.7 543.6 477.6 542.9 478.2 542.1 478.6 541.0 479.1 540.1 479.5 539.2 480.1 538.3 480.6 537.4 481.0 535.8 481.5 534.9 481.6 534.7 481.1 534.4 480.1 534.4 479.2 533.7 478.2 533.3 477.3 532.6 476.6 532.3 476.0 531.9 474.6 531.1 473.6 530.7 472.8 529.9 471.6 529.7 470.6 529.3 471.6 529.3 471.7 528.9 471.4 528.5 470.8 528.2 470.2 528.1 469.3 528.8 469.4 529.3 469.3 529.7 468.4 529.8 467.8 530.2 466.9 530.2 466.0 530.5 465.4 530.0 465.4 529.4 465.3 529.1 465.6 528.2 465.8 527.3 465.2 527.0 465.5 526.1 465.6 525.5 465.3 525.0 465.1 525.0 464.3 524.4 463.9 524.7 463.4 524.4 463.1 524.4 462.7 524.2 462.1 523.0 462.1 523.0 462.7 522.6 462.5 522.3 462.3 522.2 462.7 522.4 463.3 522.6 463.8 523.0 464.3 522.5 464.5 522.4 464.8 522.5 465.5 522.1 465.5 521.6 465.2 521.4 464.6 521.7 464.1 521.2 464.0 521.0 463.5 520.6 463.0 520.2 462.3 520.3 461.5 520.0 461.1 519.7 460.7 519.1 460.3 518.1 459.9 517.7 459.3 517.4 458.4 516.9 458.8 516.7 458.2 515.9 458.3 515.9 459.0 516.1 459.5 516.7 459.9 517.1 460.7 517.7 461.2 518.3 461.2 518.1 461.6 518.9 461.9 519.7 462.7 519.4 462.9 518.8 462.3 518.5 462.7 518.5 463.1 518.8 463.5 518.5 463.8 518.2 464.3 518.0 464.3 518.1 463.8 518.1 463.1 517.7 462.7 517.2 462.2 516.6 461.8 515.9 461.4 515.2 460.8 514.8 460.3 514.6 459.6 513.8 459.1 513.4 459.5 513.0 459.6 512.4 460.1 511.6 460.0 511.1 460.0 510.5 460.0 510.2 460.5 510.3 460.9 509.7 461.6 508.9 461.9 508.4 462.7 508.2 463.1 508.5 463.7 508.1 464.1 508.0 464.5 507.4 464.8 507.2 465.2 506.4 465.3 505.6 465.3 505.0 465.8 504.5 465.3 504.1 464.9 503.6 465.1 502.9 465.1Z M618.2 430.5 620.0 431.7 622.5 433.7 624.3 435.0 623.1 436.0 622.8 437.5 621.2 437.0 620.6 436.0 619.1 436.0 618.2 436.5Z M504.9 454.0 505.8 453.7 506.3 453.8 507.2 453.4 508.4 453.3 509.2 452.9 508.8 452.6 509.3 452.1 509.4 451.4 508.7 451.1 508.6 451.0 508.3 450.5 508.2 449.9 507.7 449.5 507.4 448.5 507.0 448.0 506.6 448.0 506.8 447.4 507.2 446.2 506.3 446.1 505.9 446.2 506.5 445.0 505.3 445.0 505.0 446.0 504.7 446.3 504.9 447.3 504.9 448.0 505.2 448.7 505.5 449.1 505.6 449.4 506.3 449.2 506.5 450.1 506.5 450.7 505.6 450.8 505.6 451.3 505.8 451.8 505.2 452.3 505.9 452.5 506.4 452.7 505.8 453.0 504.9 454.0Z M502.3 452.5 503.5 452.4 504.5 451.9 504.7 450.6 505.0 449.6 504.4 448.8 503.3 448.8 503.2 449.7 502.3 449.9 502.6 450.9 502.4 451.8 502.3 452.5Z M515.1 409.2 516.9 412.4 518.1 414.3 519.4 412.1 521.2 410.1 520.0 407.9 521.8 409.2 523.6 406.6 524.9 403.5 522.4 402.5 519.4 403.2 516.9 404.9 515.1 406.0 515.1 409.2Z M539.8 426.0 541.0 427.3 541.9 427.5 543.5 426.9 542.5 424.0 542.5 421.9 543.8 419.7 545.0 417.3 547.4 415.6 550.2 414.0 548.6 413.5 546.2 414.8 543.8 416.1 542.2 418.5 541.3 420.8 540.7 423.4 539.8 426.0Z M537.1 403.2 539.5 404.3 541.3 403.2 543.8 403.2 546.2 401.7 545.0 399.4 541.9 398.5 538.9 400.9Z M566.3 407.6 567.6 409.8 569.4 409.8 572.4 408.5 571.8 405.6 569.4 400.6 567.0 400.6 564.5 404.3 566.3 407.6Z M592.0 417.3 593.8 419.0 596.8 418.5 598.7 419.0 599.9 417.8 597.5 417.1 595.6 416.1 593.2 416.1Z M593.8 421.9 595.6 422.3 595.9 421.3 594.4 420.8Z M617.3 426.9 618.2 427.3 618.2 426.0 617.3 426.0Z M618.2 427.3 619.7 426.9 619.4 426.0 618.2 426.0Z M537.9 430.5 538.8 430.8 538.9 429.6 538.0 429.6Z M588.2 467.3 589.2 467.1 589.8 467.0 590.7 466.9 591.0 467.6 591.8 467.0 592.6 466.9 593.1 466.8 593.7 466.5 594.3 466.1 594.2 465.2 594.4 464.3 594.7 463.9 595.0 463.1 594.7 462.3 594.6 461.6 594.0 461.8 593.8 462.7 593.7 463.5 593.2 464.3 592.9 464.8 592.0 464.8 591.8 465.2 591.4 466.0 590.9 466.1 589.5 466.2 588.9 466.7 588.2 467.3Z M593.8 461.1 594.0 460.0 594.8 459.9 594.8 458.2 595.6 459.0 597.0 459.6 596.5 460.3 595.8 461.1 595.0 460.6 594.4 460.7 594.1 461.4 593.8 461.1Z M587.7 467.7 588.3 467.4 588.7 467.6 588.8 468.2 588.5 469.2 588.1 469.5 587.8 469.4 587.9 468.4 587.6 468.2 587.5 467.8Z M589.2 467.5 589.8 467.2 590.4 467.2 590.5 467.5 590.3 467.8 589.8 467.8 589.4 468.2 589.1 467.8Z M595.0 449.8 595.5 450.3 595.8 451.6 595.7 453.1 596.1 454.1 596.5 455.0 595.8 454.8 595.4 455.9 595.9 457.2 595.4 457.1 595.0 457.7 594.9 456.8 595.1 455.5 595.1 454.1 594.9 452.6 594.9 451.1 595.0 449.8Z M597.5 459.0 599.0 458.2 599.1 458.4 597.6 459.3Z M599.9 457.7 601.1 456.7 601.2 456.8 600.0 457.9Z M602.3 455.0 603.5 453.6 603.7 453.9 602.5 455.2Z M582.2 473.5 582.8 473.6 582.5 474.6 582.1 475.6 581.7 475.0 581.8 474.3Z M574.7 477.4 575.2 476.9 575.8 476.9 576.1 477.3 575.7 477.9 575.2 478.1 574.7 477.8Z M557.2 483.5 557.7 483.9 558.3 484.8 558.2 485.4 557.8 485.7 557.3 485.7 557.1 485.1 557.1 484.4Z M581.9 477.9 582.5 477.8 582.9 478.0 583.0 478.9 582.5 479.5 582.6 480.3 583.1 480.6 583.7 480.9 584.0 481.4 583.7 481.5 583.3 481.1 582.8 480.9 582.3 481.0 582.0 480.6 581.9 480.3 581.6 479.8 581.6 479.4 581.8 478.7Z M582.8 485.1 582.9 484.6 583.7 484.2 584.3 484.1 584.9 483.5 585.4 484.2 585.6 484.8 585.4 485.4 584.9 485.7 584.8 485.2 584.0 485.4 584.0 484.9 583.4 484.8Z M582.8 482.2 583.4 482.3 583.5 482.8 583.1 483.0 582.8 483.0Z M584.2 482.3 585.0 481.7 585.1 482.5 584.6 483.1 584.5 483.0Z M583.4 482.8 583.7 482.8 583.7 483.6 583.4 483.8 583.1 483.4Z M581.8 481.2 582.3 481.2 582.5 481.7 582.2 481.9Z M579.9 484.3 580.4 483.8 581.2 483.0 581.3 482.5 581.1 483.1 580.5 484.0Z M574.9 488.5 575.3 488.2 576.1 488.5 576.3 487.9 577.3 487.4 577.9 486.7 578.8 486.2 579.6 485.2 580.1 485.4 580.2 485.9 581.1 486.2 580.4 486.8 580.2 487.3 580.6 488.2 580.3 488.8 580.9 488.8 580.1 489.7 579.5 490.3 579.5 491.5 578.8 491.7 578.2 491.8 577.6 491.4 576.4 491.2 575.7 491.1 575.5 490.3 575.0 489.7 574.9 489.1 574.9 488.5Z M566.5 486.0 567.3 486.2 567.9 486.2 568.5 487.0 569.3 487.6 569.7 488.0 570.3 488.3 571.1 488.9 571.5 489.4 571.8 490.0 572.3 490.7 573.0 491.2 573.0 492.1 572.9 492.9 572.1 492.9 571.5 492.4 570.8 491.8 570.2 491.1 569.7 490.3 569.4 489.7 568.8 488.9 568.5 488.3 567.9 487.7 567.3 487.1 566.6 486.5 566.5 486.0Z M572.6 493.6 573.0 493.0 573.7 493.1 574.6 493.4 575.5 493.6 576.1 493.4 577.1 493.6 577.6 494.1 578.2 494.1 578.2 494.7 577.3 494.5 576.1 494.5 575.2 494.2 574.3 494.2 573.4 493.9 572.6 493.6Z M581.5 488.9 582.1 488.6 583.1 488.8 584.5 488.4 584.8 488.6 584.2 489.2 583.4 489.1 582.5 489.1 581.9 489.2 581.6 489.7 581.9 490.0 582.5 490.0 583.5 489.9 583.5 490.1 582.8 490.4 582.6 490.6 583.0 491.4 583.3 492.1 582.7 492.3 582.5 491.8 582.1 491.1 581.9 491.5 581.8 492.8 581.3 492.8 581.3 491.8 581.0 491.2 581.2 490.3 581.5 488.9Z M588.3 489.9 589.2 489.6 590.1 489.9 590.3 490.6 590.7 491.4 591.7 490.8 592.6 490.4 593.5 490.7 594.4 491.0 595.6 491.5 596.5 491.8 597.3 492.5 598.4 493.1 598.5 493.5 597.9 493.6 598.4 494.2 599.0 494.8 599.9 495.5 600.3 495.8 599.3 495.7 598.1 495.5 597.5 494.8 596.5 494.1 595.9 494.6 595.3 495.0 594.4 495.0 593.5 494.4 592.6 494.5 593.1 493.7 592.6 492.8 591.4 492.2 590.4 491.8 589.5 491.9 589.4 491.4 590.0 490.9 589.1 490.8 588.3 490.3Z M578.9 494.4 579.8 494.5 581.0 494.5 582.2 494.5 583.4 494.5 583.4 494.9 582.2 494.9 581.0 494.8 579.8 494.9 578.9 494.8Z M581.0 495.2 582.1 495.3 581.9 495.7 581.0 495.4Z M583.7 495.7 584.3 495.1 585.9 494.5 585.7 494.9 584.9 495.3 584.2 495.7Z M586.2 488.2 586.7 488.5 586.8 489.2 586.5 489.9 586.2 489.1Z M586.3 491.4 587.4 491.1 588.2 491.4 587.6 491.5 586.5 491.5Z M585.2 491.4 586.0 491.4 585.9 491.7 585.4 491.7Z M598.9 492.8 599.9 492.8 601.1 492.0 601.3 492.5 600.2 493.3 599.0 493.1Z M600.3 491.0 601.4 491.7 601.7 492.3 601.3 491.8 600.3 491.2Z M602.7 492.8 603.4 493.4 603.2 493.6 602.8 493.1Z M605.7 495.1 606.5 495.4 606.2 495.5 605.7 495.3Z M606.4 494.5 606.9 495.3 606.7 495.3 606.4 494.7Z M608.4 502.0 609.3 502.5 610.3 503.4 610.0 503.4 609.0 502.8 608.4 502.2Z M616.5 500.2 617.4 500.2 617.3 500.8 616.5 500.7Z M610.0 498.7 610.4 499.0 610.3 499.3 610.0 499.0Z M413.2 476.8 413.8 477.1 413.5 477.6 413.2 477.3Z M411.9 475.9 412.2 476.0 412.1 476.2 411.9 476.1Z M577.7 503.5 577.6 504.8 578.1 505.8 578.4 507.5 578.7 509.0 579.0 509.9 578.5 511.7 579.5 512.2 580.4 512.2 581.6 511.5 582.8 511.5 583.7 511.4 584.3 510.7 585.2 510.2 586.5 510.0 587.1 509.7 588.4 509.7 589.2 510.0 590.1 510.5 590.9 511.8 591.2 512.1 591.7 511.5 592.4 510.7 592.3 511.8 592.3 512.4 592.8 511.8 592.9 512.6 593.6 513.3 594.1 514.5 594.7 514.8 595.9 515.1 596.8 514.7 597.6 515.3 598.4 514.5 599.6 514.3 599.9 513.9 600.1 512.6 600.5 511.5 601.4 510.2 601.7 509.0 602.0 507.5 601.8 506.5 601.7 505.5 601.1 504.8 600.5 504.2 599.8 503.4 599.3 502.5 598.7 501.9 598.1 501.4 597.5 500.9 597.5 499.9 597.0 499.3 597.0 498.7 596.5 498.2 596.0 498.2 595.8 497.1 595.3 496.0 595.0 496.5 594.8 497.4 594.7 498.7 594.6 499.3 594.3 500.2 593.5 500.2 592.9 499.8 592.3 499.3 591.4 498.8 591.0 498.3 591.4 497.6 591.8 496.9 591.4 496.9 590.7 496.9 589.8 496.6 589.2 496.5 588.6 496.9 588.2 497.1 587.7 497.7 587.4 498.7 586.8 498.6 586.5 498.7 585.9 498.0 585.2 498.2 584.6 499.0 584.0 499.6 583.7 500.1 582.9 500.2 582.9 500.9 582.2 501.7 581.0 501.9 580.1 502.3 579.1 502.4 578.2 503.0 577.7 503.5Z M596.7 516.6 597.8 516.9 598.9 516.8 598.9 517.7 598.7 518.7 598.1 518.9 597.5 519.0 597.0 517.8 596.7 516.6Z M613.7 511.8 614.2 512.2 614.8 513.2 615.4 513.5 615.8 514.2 616.5 514.5 617.3 514.3 617.0 515.0 616.4 515.5 616.4 515.9 615.9 516.7 615.3 517.4 615.0 517.1 615.3 516.2 615.0 515.9 614.4 515.5 614.9 515.1 615.0 514.1 614.7 513.3 613.9 512.4Z M613.7 516.5 614.0 517.1 614.7 517.4 614.4 518.1 613.8 519.0 613.9 519.3 613.2 519.5 612.7 520.9 611.8 521.6 611.1 521.6 610.0 520.9 610.6 520.0 611.2 519.3 612.4 518.5 612.9 517.9 613.3 516.9 613.7 516.5Z M516.0 464.3 516.6 464.2 517.9 464.1 517.7 465.1 517.2 465.2 516.1 464.6Z M513.4 461.9 514.3 461.8 514.3 463.3 513.9 463.5 513.5 463.4Z M513.6 460.7 514.1 460.3 514.2 461.2 514.0 461.6 513.6 461.2Z M522.7 466.1 523.6 466.3 524.4 466.4 524.4 466.6 523.5 466.7 522.7 466.4Z M528.1 466.6 528.5 466.3 529.5 466.1 529.1 466.6 528.5 466.9Z M509.8 463.1 510.3 462.8 510.5 463.1 510.2 463.3Z M519.4 446.7 520.0 445.9 519.9 446.5 519.5 447.0Z M515.1 448.3 516.0 447.9 516.0 448.7 515.7 449.4 515.1 448.8Z M514.4 448.5 515.0 448.5 514.9 449.1 514.5 449.1Z M503.9 440.6 504.4 440.5 504.3 441.5 503.9 441.1Z M507.4 442.6 507.8 442.6 507.7 443.5 507.4 443.4Z M503.9 445.4 504.5 445.3 504.1 446.9 503.8 446.8Z M498.1 471.3 498.6 471.2 498.4 471.6 498.1 471.6Z M499.7 471.2 500.2 470.8 500.2 471.0 499.8 471.5Z M493.9 480.0 494.1 480.0 494.1 480.2 493.9 480.2Z M540.9 481.7 541.6 481.7 541.5 481.8 541.0 481.8Z M532.3 492.9 532.5 493.1 532.5 493.4 532.3 493.3Z M534.7 496.5 534.9 496.5 534.9 496.7 534.7 496.7Z M542.1 502.4 542.4 502.4 542.4 502.8 542.1 502.7Z M543.4 501.9 543.6 501.9 543.6 502.2 543.4 502.2Z M513.6 487.1 513.8 487.1 513.8 487.4 513.6 487.4Z M564.9 481.1 565.2 481.2 565.1 482.3 564.8 482.2Z M585.4 467.7 585.8 467.7 585.7 467.9 585.4 467.9Z M572.6 490.4 573.2 490.4 573.5 491.2 572.9 491.1Z M578.2 494.4 579.0 494.5 578.7 494.8 578.2 494.5Z M550.4 523.6 551.4 523.6 551.3 524.3 550.4 524.3Z M452.6 489.6 453.0 489.6 452.9 490.0 452.6 489.9Z M463.1 517.5 463.6 517.6 463.5 518.8 463.0 518.7Z M465.1 527.4 466.3 527.3 466.7 527.9 465.7 528.7 464.8 528.5Z M477.4 489.5 478.5 489.5 478.8 490.0 477.6 490.5Z M398.0 434.8 401.0 434.5 402.2 436.5 400.4 438.2 398.0 437.3Z M544.4 429.3 545.3 428.6 545.1 429.5Z"/>
<path fill="#eaf1fa" stroke="#d7dfbf" stroke-width="0.4" stroke-linejoin="round" d="M525.5 461.4 526.1 461.8 527.6 461.8 528.8 461.1 529.7 461.1 530.7 461.7 531.6 461.9 532.8 461.9 533.8 461.4 533.6 460.5 532.8 459.9 531.9 459.2 531.1 458.6 530.7 458.4 530.0 458.6 529.1 459.1 528.8 458.9 528.3 458.2 528.9 457.7 527.9 457.5 527.3 457.2 526.7 457.9 526.5 458.4 526.0 459.0 525.8 459.9 525.4 460.5 525.5 461.4Z M529.7 458.1 529.9 457.5 531.0 457.0 531.8 456.7 532.3 456.7 531.6 457.7 531.3 458.2 530.7 458.3Z M524.7 462.3 526.3 462.0 526.1 462.4 525.0 462.5Z M538.3 457.3 537.4 458.2 537.1 459.0 537.4 460.3 538.0 461.3 538.6 462.3 538.3 463.4 538.3 463.9 538.9 464.8 540.1 465.2 541.3 465.1 541.2 463.5 540.7 462.7 540.6 461.5 541.3 461.1 540.4 460.5 539.8 459.9 539.5 459.0 540.7 458.3 540.7 457.0 539.5 456.8 538.3 457.3Z M544.1 457.3 545.0 457.1 545.9 457.3 545.9 458.6 545.0 459.7 544.1 459.6 544.0 458.6Z M571.7 452.5 572.3 452.6 573.7 451.3 575.2 449.1 575.4 448.2 574.8 448.7 573.7 450.3 572.7 451.3Z M553.2 458.3 554.1 457.1 556.3 457.3 556.7 457.0 556.3 457.6 554.4 457.5 553.5 458.6Z M526.9 443.4 527.6 441.5 528.5 442.4 528.2 443.1Z M529.4 442.1 530.0 440.2 530.5 441.5Z M452.3 457.1 453.5 456.1 454.4 455.4 455.6 455.3 456.5 456.1 456.8 457.2 455.9 457.2 455.0 457.3 454.1 457.0 453.2 457.2Z M454.8 461.4 455.6 461.3 455.7 459.9 456.2 458.6 456.5 457.8 455.6 457.9 455.0 458.6 454.8 459.9Z M456.8 457.7 458.1 457.7 459.0 458.2 459.6 458.9 458.7 459.0 458.6 460.0 458.1 460.3 457.5 459.6 457.6 458.6 456.8 458.0Z M457.5 461.4 458.7 461.5 460.2 460.5 460.2 460.3 459.3 460.5 458.1 460.9 457.6 461.0Z M459.7 460.0 461.1 460.0 461.8 459.8 461.8 459.3 461.1 459.5 460.0 459.6Z M448.3 453.6 449.5 453.6 449.2 451.6 448.6 450.1 447.9 450.6 448.3 452.1Z M437.0 442.1 438.9 442.1 440.7 440.2 441.6 439.8 440.1 440.6 437.9 441.1Z M432.4 435.3 434.6 436.7 436.4 436.0 436.4 433.7 434.9 433.7 433.7 434.8Z M440.4 444.9 441.9 444.6 443.4 444.1 442.2 444.1 441.0 444.3Z M527.7 489.2 529.0 489.2 529.3 490.0 528.8 490.9 527.9 491.0 527.7 490.0Z M526.2 491.5 526.6 492.1 527.2 494.0 527.4 494.7 527.0 494.4 526.3 492.8Z M529.1 495.2 529.6 496.2 529.8 497.7 529.7 498.2 529.4 497.7 529.2 496.2Z M516.6 481.4 517.4 481.2 517.2 481.7 516.7 481.7Z M465.7 498.9 466.1 499.0 466.4 499.5 465.8 499.3Z M464.5 483.8 465.0 483.8 465.1 483.0 464.7 482.7Z"/>
<path fill="none" stroke="#d7dfbf" stroke-width="0.4" stroke-linejoin="round" d="M422.4 429.5 422.4 443.0 423.6 443.4 424.5 444.7 425.7 443.7 427.0 445.2 428.0 447.2 429.1 448.0 428.8 449.3 M433.4 455.0 441.3 455.0 450.3 455.0 450.6 455.2 452.3 455.7 453.8 455.9 M458.1 458.3 457.5 457.6 456.8 457.3 M461.8 459.3 462.8 458.6 464.8 458.6 465.5 457.5 466.2 456.5 466.9 456.6 467.0 457.9 467.5 458.6 M437.0 468.4 438.4 468.3 440.7 469.3 442.4 469.3 442.4 468.9 443.4 468.9 444.6 470.5 445.4 470.9 445.9 470.3 446.5 470.3 447.7 471.9 448.0 472.7 449.1 473.0 M452.1 480.5 452.3 480.0 452.4 479.5 453.2 479.5 452.6 478.7 452.9 478.7 452.9 478.4 454.0 478.4 454.0 479.5 454.2 479.6 M454.0 478.4 454.5 477.9 M453.4 481.0 453.9 480.5 454.0 480.1 454.5 479.7 M453.9 480.5 454.4 480.8 454.8 481.2 M455.1 481.4 455.5 480.9 456.1 480.8 456.7 480.3 457.6 480.1 M456.1 482.6 456.7 482.6 457.3 482.7 M457.8 484.4 457.8 483.8 458.0 483.5 M464.6 477.1 464.7 477.8 464.6 478.2 M461.2 484.1 461.3 484.6 460.9 485.0 M464.9 482.2 464.2 482.6 463.7 483.8 464.2 484.3 464.5 485.1 465.7 485.1 467.2 485.6 467.0 486.7 467.3 487.4 467.5 488.7 M467.5 488.7 465.8 488.4 466.0 489.0 465.7 489.4 466.1 490.2 465.7 492.0 464.0 492.5 463.4 493.9 463.9 495.0 464.3 495.5 465.3 495.2 465.3 496.2 466.0 496.2 466.5 497.1 466.3 497.8 466.1 499.0 465.9 500.1 466.0 500.2 465.4 500.8 M460.3 488.5 461.0 488.9 461.8 489.2 462.5 489.5 462.3 490.3 461.6 491.0 460.8 491.5 460.6 492.2 459.9 492.4 459.4 492.0 459.4 491.5 M462.5 489.5 463.1 490.0 463.9 490.8 465.7 492.0 M467.5 488.7 467.9 489.0 468.4 488.9 469.2 488.5 469.3 487.9 469.7 487.0 471.2 486.7 471.4 486.2 471.8 486.3 M471.8 484.2 470.9 485.7 471.4 486.2 471.8 486.3 471.9 486.7 472.0 488.2 472.5 488.7 473.6 488.2 474.2 488.2 475.1 488.0 476.2 488.0 476.9 487.0 M473.5 485.7 473.4 486.3 473.0 487.0 473.6 488.2 M475.4 485.9 475.1 486.5 475.4 487.3 475.1 488.0 M466.0 496.2 466.5 496.2 467.8 495.5 468.6 495.4 468.5 496.6 469.2 497.1 470.1 497.4 471.2 497.7 471.6 498.4 471.7 499.5 472.8 499.5 472.9 500.2 473.3 500.7 473.1 501.2 472.9 501.7 M466.0 500.2 466.6 501.5 466.5 502.2 466.8 502.8 467.0 503.7 467.4 503.7 M467.4 503.7 467.9 503.0 469.0 503.4 470.1 503.2 470.4 502.2 470.8 501.6 471.9 501.4 472.9 501.7 M472.9 501.7 473.1 503.2 474.4 503.4 474.6 504.5 475.3 504.5 475.1 505.6 M470.1 503.2 471.2 504.4 472.4 505.0 473.3 505.4 472.6 506.7 474.1 506.7 475.1 505.6 M475.1 505.6 475.6 506.0 475.6 506.7 474.4 507.3 473.3 508.7 473.1 509.3 472.9 510.4 472.8 511.5 M473.3 508.7 474.2 509.2 475.1 509.7 475.8 510.5 475.8 511.3 M467.4 503.7 467.5 504.5 466.6 505.0 466.7 506.5 465.9 507.5 465.7 509.3 465.4 510.7 465.8 511.8 465.4 513.0 465.0 515.0 464.6 516.5 464.7 518.5 464.8 520.6 464.3 522.4 464.2 524.7 464.3 526.4 465.7 526.7 466.6 527.0 M466.5 527.4 466.5 529.6 M503.0 461.2 503.4 461.1 504.4 461.2 504.5 461.6 504.2 462.6 504.1 463.0 503.9 463.2 504.1 464.2 503.9 464.8 M507.3 460.0 508.1 460.5 509.3 460.6 510.3 460.8 M509.9 453.0 510.2 453.3 511.0 454.1 511.3 453.9 511.9 454.5 512.3 454.5 513.4 455.0 513.0 456.3 512.7 456.5 512.1 457.5 512.5 457.7 512.7 457.8 512.5 458.5 512.7 459.3 513.0 459.6 M510.5 452.7 511.0 452.7 511.4 452.6 512.0 452.9 512.1 453.3 512.3 453.8 512.1 454.0 511.9 454.5 M512.8 450.8 512.7 451.8 512.0 452.3 512.0 452.9 M513.6 449.2 514.2 449.3 M517.1 450.2 517.0 451.3 517.4 452.1 517.5 453.1 517.1 453.1 515.8 453.8 516.0 454.2 516.8 455.3 516.3 455.7 516.3 456.4 515.8 456.2 514.8 456.4 514.2 456.4 513.6 456.2 513.0 456.3 M517.5 453.1 518.6 453.8 519.9 454.5 519.9 454.5 M516.8 455.3 517.5 455.0 518.7 455.3 518.8 455.8 M518.8 455.8 519.9 454.5 522.1 454.9 521.9 455.6 520.9 455.5 519.9 456.1 518.9 455.9 518.8 455.8 M514.2 456.4 514.2 456.8 514.7 456.9 514.8 457.3 514.1 457.4 513.9 457.8 513.5 457.5 512.7 457.8 M514.8 456.9 515.8 456.8 516.7 457.3 517.2 457.4 518.1 457.0 518.2 456.9 518.5 456.2 518.9 455.9 M516.7 457.3 516.7 457.9 M516.7 458.2 517.2 458.2 517.7 458.2 518.0 457.5 518.5 457.3 518.2 456.9 M518.5 457.3 519.1 457.8 519.9 457.8 520.0 458.7 518.1 458.4 518.0 458.8 518.8 459.9 519.7 460.7 M519.9 457.8 520.8 457.5 521.3 457.4 522.4 455.9 521.9 455.6 M522.4 455.9 523.6 456.2 524.6 455.7 525.6 457.3 525.6 458.2 526.5 458.3 M524.6 455.7 525.3 455.6 526.2 455.9 526.7 457.3 526.8 457.8 M520.8 457.5 520.0 458.7 520.3 459.5 520.1 459.9 520.8 460.5 521.0 461.1 521.2 462.1 520.6 463.0 M521.3 457.4 521.5 458.4 522.1 458.9 522.2 459.3 M522.2 459.3 523.0 459.7 524.2 459.5 525.5 459.6 525.8 459.7 M522.2 459.3 522.1 460.3 522.1 460.9 522.4 461.7 524.4 461.4 525.5 461.1 M521.0 461.1 522.1 460.9 M521.2 462.1 522.4 461.7 M524.2 462.1 524.4 461.4 M520.5 449.7 522.3 449.7 522.7 450.2 523.0 451.4 522.5 451.9 523.0 453.3 522.2 454.5 522.1 454.9 M521.2 448.7 522.3 449.1 522.3 449.7 M522.7 450.2 524.1 449.8 524.6 448.3 525.6 447.9 525.3 446.4 525.1 446.2 525.6 444.1 M521.2 447.9 523.6 447.5 524.6 448.3 M523.2 446.0 525.1 446.2 M525.6 447.9 527.2 448.4 527.8 452.0 527.1 452.8 523.0 452.5 522.8 452.6 M527.8 452.0 529.4 452.3 530.1 453.7 532.8 454.5 532.7 456.1 531.7 456.7 M525.3 442.8 526.7 439.5 526.6 434.1 525.8 430.7 526.1 429.3 527.2 429.1 M523.1 435.6 522.8 432.3 521.0 430.3 520.6 430.5 519.4 431.5 518.1 433.7 517.2 436.3 516.7 438.0 515.8 439.1 515.8 441.8 516.0 443.0 515.6 443.5 515.3 444.5 M521.0 430.3 524.1 430.7 524.2 429.3 525.5 428.7 M503.9 449.1 503.4 449.6 503.9 450.0 504.5 450.0 M500.5 471.8 503.1 471.8 503.1 471.1 505.9 469.5 507.7 468.7 507.0 466.5 M498.0 476.3 500.5 476.1 500.5 475.0 501.1 474.6 501.1 473.0 503.1 473.0 503.1 471.8 M503.1 472.1 505.5 473.6 504.4 473.6 505.0 479.5 505.0 479.8 501.9 479.9 501.4 479.8 500.9 480.3 499.6 479.1 498.3 479.5 M505.5 473.6 509.1 476.2 510.3 477.1 511.0 477.5 511.0 478.9 510.6 479.8 508.5 480.1 508.0 480.1 507.2 480.6 506.6 481.0 505.8 481.3 505.2 482.2 505.0 483.0 M510.3 477.1 511.9 477.3 513.0 476.4 515.7 474.6 514.1 472.8 514.4 470.3 513.9 468.7 513.4 468.4 513.0 467.5 513.6 465.2 M514.4 470.3 514.6 469.6 515.4 468.4 515.4 467.9 M515.7 474.6 517.1 475.2 517.5 475.0 523.0 477.3 523.0 476.9 523.6 476.9 523.6 475.6 523.6 469.1 M523.6 475.6 527.5 475.6 530.9 475.6 M523.0 477.3 523.0 479.7 522.4 479.7 521.8 481.6 522.4 482.8 522.8 484.1 523.8 484.6 525.1 486.3 M517.5 475.0 518.1 476.6 517.8 478.9 516.7 481.0 516.9 481.4 517.2 481.6 M511.0 478.9 512.5 481.2 513.7 481.4 514.9 481.2 516.0 481.3 516.7 481.0 M510.6 479.8 510.6 482.2 510.1 483.9 510.0 485.5 M508.5 480.1 509.0 481.4 509.7 481.8 510.6 482.2 M509.0 482.6 508.9 482.8 509.4 483.9 509.4 485.6 M506.7 482.6 508.4 482.6 508.7 484.2 508.8 485.4 509.1 485.7 M505.0 483.0 506.7 483.5 506.7 484.5 506.4 485.4 506.6 486.3 M505.0 483.0 503.5 483.1 503.3 484.8 503.8 485.9 503.8 486.7 M503.3 484.8 502.7 484.6 502.1 484.2 501.4 485.1 M502.1 484.2 501.9 483.6 501.6 483.3 500.8 483.7 500.3 483.9 M503.5 483.1 503.3 482.4 502.7 481.8 501.4 481.8 500.9 480.3 M501.4 481.8 500.0 481.6 499.2 482.6 500.0 481.6 498.2 481.8 M498.1 481.0 499.2 480.9 500.0 481.2 499.2 481.3 498.1 481.3 M517.2 481.6 517.1 483.3 517.8 483.3 516.9 484.2 517.7 484.8 517.2 485.8 518.1 488.2 518.2 488.4 M513.6 486.5 514.5 485.1 515.3 485.4 515.8 484.3 516.4 483.3 517.1 483.3 517.2 481.6 M514.4 488.0 515.3 488.1 516.5 488.1 518.2 488.4 519.7 487.3 519.7 486.3 520.3 486.3 522.1 486.9 523.9 486.2 525.1 486.3 M517.7 484.8 519.7 484.5 520.0 483.9 522.4 482.7 M514.2 488.8 515.3 488.8 515.3 488.1 M515.2 491.8 515.7 490.9 517.2 490.6 517.2 489.8 516.9 488.6 516.5 488.1 M518.2 488.4 519.2 489.7 518.3 490.7 518.1 491.8 517.2 492.4 516.3 492.2 515.8 492.9 M515.9 493.1 518.5 493.0 518.8 493.9 520.2 494.3 521.7 493.9 521.8 496.3 523.0 496.2 523.0 497.4 521.8 497.4 521.8 499.4 522.7 500.3 M525.1 486.3 527.2 487.3 527.4 488.1 526.5 488.9 526.4 490.3 526.1 491.0 526.3 492.1 526.3 492.5 M525.1 486.3 525.7 486.8 527.2 487.3 529.1 486.8 530.3 486.6 529.2 484.1 528.5 483.6 529.2 482.9 529.8 482.0 530.4 481.6 530.7 480.6 530.6 480.1 531.0 478.9 531.9 478.2 M530.7 480.6 531.5 480.2 533.3 480.7 534.3 481.7 534.7 481.6 M534.3 481.7 533.9 482.6 534.6 482.7 534.7 482.3 M534.6 482.7 535.2 483.9 537.1 484.5 537.7 484.5 535.8 486.3 534.0 486.8 533.4 487.0 532.7 487.0 531.6 487.2 530.4 486.7 530.3 486.6 M533.4 487.0 533.4 489.9 533.8 490.4 M529.1 486.8 529.7 488.4 529.1 489.3 529.1 490.0 531.3 491.2 531.4 491.5 532.3 492.3 M529.1 490.0 527.0 490.0 527.2 490.8 527.0 491.4 526.3 492.1 M527.2 494.5 528.5 495.2 529.7 496.5 531.3 496.6 533.0 495.8 M525.7 494.5 525.9 495.4 525.7 496.7 526.6 496.9 526.6 497.6 525.7 497.0 524.2 496.7 523.0 496.2 M527.2 494.5 526.0 494.6 525.7 494.5 M528.5 495.2 528.6 498.0 526.8 498.5 526.9 499.0 526.0 499.2 524.9 500.5 523.8 500.4 522.7 500.3 M526.9 499.0 528.4 499.7 528.4 501.7 528.2 502.7 527.5 503.4 526.3 503.3 525.5 502.9 525.3 502.2 524.4 501.5 523.8 500.4 M529.7 496.5 529.4 498.3 529.9 499.4 529.9 500.0 529.3 499.2 528.6 498.0 M527.5 503.4 527.9 504.8 527.8 505.8 528.0 506.4 528.5 506.4 M515.6 500.1 516.6 499.9 517.1 500.2 519.6 500.2 519.7 500.5 521.4 500.6 522.7 500.3 523.8 500.4 M521.2 500.8 521.2 503.2 520.6 503.2 520.6 505.0 520.6 507.5 519.0 507.7 518.5 507.6 M520.6 505.0 521.1 506.4 522.2 505.8 523.9 505.6 524.8 504.3 526.3 503.3 M524.9 508.3 525.8 507.7 526.3 508.2 525.6 508.8 524.9 508.3 M529.3 469.3 529.7 470.6 M529.7 470.6 530.4 470.8 531.3 470.2 531.0 469.1 532.2 468.6 532.1 467.8 533.4 467.0 534.2 464.9 M530.1 468.3 530.0 469.1 529.7 470.5 M529.8 468.0 530.2 467.8 530.7 467.2 530.4 466.9 M530.2 467.8 532.1 467.8 M530.5 465.4 530.8 465.2 531.6 465.2 532.8 465.2 534.2 464.9 535.7 464.9 535.2 463.2 535.7 463.0 535.0 462.7 534.9 461.9 534.3 461.5 533.8 461.5 M531.3 470.2 531.6 469.8 532.3 468.6 533.0 468.9 534.0 469.4 535.7 470.8 536.8 470.8 537.5 470.2 537.7 469.8 537.4 469.5 537.5 468.8 536.4 468.1 536.1 467.3 536.6 466.5 536.1 465.8 535.7 464.9 M536.8 470.8 537.4 471.3 537.9 471.3 M539.9 474.1 541.9 475.2 542.4 475.6 542.1 476.9 540.1 477.6 538.3 477.8 537.1 478.9 536.4 478.7 535.5 478.6 534.7 478.6 534.5 479.3 M542.4 475.6 542.5 474.3 542.7 473.7 M542.1 476.9 540.1 477.6 540.8 479.1 M535.7 463.0 536.8 463.6 537.7 463.1 538.2 464.0 M534.9 461.9 535.8 461.7 536.8 461.3 538.0 461.3 M532.8 460.0 534.3 460.1 535.5 460.5 536.8 461.3 M535.8 461.7 536.0 462.0 536.8 463.4 M541.3 464.8 542.5 464.2 543.3 464.3 544.7 464.7 545.7 465.4 545.7 466.1 545.3 467.5 545.5 469.1 546.0 469.2 545.5 470.3 546.5 470.6 546.9 472.1 546.0 473.5 M545.5 470.3 548.8 470.3 548.9 469.5 550.7 468.9 550.8 468.0 551.8 467.2 552.1 465.6 554.1 464.9 M545.7 466.1 546.8 466.3 547.7 465.6 549.0 464.8 549.9 465.1 552.0 464.3 552.1 465.3 554.1 464.9 554.1 463.9 553.4 462.9 M540.4 461.3 541.3 460.9 542.5 461.7 543.2 461.7 544.1 460.5 545.0 461.0 546.1 461.8 549.0 464.8 M542.5 461.7 542.5 458.6 544.1 458.1 545.6 459.1 548.0 459.7 548.7 460.3 549.9 461.9 550.5 461.6 551.4 461.1 551.7 460.9 553.2 460.3 553.7 460.1 557.3 461.0 557.4 460.5 557.7 460.1 M549.9 461.9 549.8 463.1 551.4 462.7 553.4 462.9 553.3 463.2 M551.7 460.9 552.2 461.5 551.4 462.6 M553.4 462.9 555.4 461.9 557.3 461.0 M538.3 457.3 538.0 456.1 537.1 455.8 536.8 455.5 537.4 453.7 539.4 452.4 541.9 453.2 544.2 453.1 545.9 453.1 545.6 450.2 550.0 449.1 551.7 449.9 554.8 449.9 555.9 450.8 557.2 453.3 559.3 453.1 560.4 454.5 561.6 454.9 M557.7 460.1 557.3 458.6 558.7 458.4 559.0 456.7 560.5 456.7 560.7 455.6 561.6 454.9 M561.6 454.9 562.1 455.4 563.8 456.9 563.9 458.5 565.4 458.7 566.6 459.2 567.2 460.5 570.0 460.6 572.4 461.4 575.5 460.6 576.6 459.7 576.6 458.6 578.2 458.2 579.1 456.9 581.5 457.1 580.0 456.2 579.1 455.2 579.6 454.3 M561.6 454.9 563.0 454.2 564.7 453.3 567.7 454.3 568.4 452.4 570.7 452.8 570.7 453.8 573.5 453.8 576.1 454.7 578.1 453.8 579.6 454.3 581.2 453.8 582.0 451.6 583.8 450.6 585.2 451.3 586.2 454.3 588.1 455.1 588.3 456.2 590.6 455.7 589.6 458.5 588.5 458.8 588.4 459.9 588.1 460.8 M554.1 464.9 556.0 466.2 556.6 467.1 556.4 468.3 556.7 469.5 557.8 470.1 557.3 471.0 559.2 472.0 560.2 472.6 562.1 472.7 562.2 471.7 562.6 472.1 563.2 472.5 564.5 472.4 564.6 471.7 565.9 470.9 567.1 470.7 567.7 471.4 567.8 471.7 M557.8 470.1 558.5 470.0 560.7 471.4 562.2 471.7 M562.6 472.1 563.1 471.5 564.3 471.7 564.6 471.7 M550.0 474.5 551.7 474.0 551.1 471.9 552.5 471.1 553.8 469.5 553.8 468.2 553.5 466.8 555.2 466.8 556.0 466.2 M562.1 472.7 562.1 474.0 562.6 475.3 562.7 475.8 M562.1 472.7 563.2 473.0 564.7 473.6 564.0 474.3 564.4 474.8 564.9 476.1 M564.7 476.3 564.9 476.1 565.3 474.3 566.1 473.5 567.6 471.8 567.8 471.7 568.6 471.9 568.6 473.1 567.9 474.1 568.7 474.8 569.1 475.6 570.1 476.2 M570.1 476.2 569.5 476.7 568.2 477.1 568.0 477.9 568.7 479.3 568.3 480.0 568.9 481.0 569.1 482.2 568.7 483.0 M569.5 476.7 569.8 477.3 570.2 477.3 570.0 478.6 570.7 478.1 571.8 478.0 572.3 479.2 572.8 479.7 572.6 480.6 571.2 480.6 570.9 481.0 571.2 482.2 M570.1 476.2 570.7 475.4 570.9 476.3 572.4 476.8 571.8 477.4 572.6 477.8 574.0 479.5 574.0 480.3 574.0 481.8 573.0 482.3 573.1 482.6 572.1 483.0 M572.6 480.6 573.0 480.8 574.0 480.3 M570.7 475.4 571.8 475.3 572.7 474.8 573.4 475.0 574.3 476.0 M569.5 485.4 570.1 486.0 570.6 485.6 M584.2 462.8 585.8 461.3 586.5 461.1 587.5 460.8 588.1 460.8 M585.3 464.5 585.9 464.1 586.7 463.8 M575.2 488.2 575.9 488.9 576.8 488.5 578.3 488.5 579.0 486.8 580.1 486.8 M594.4 491.0 594.4 495.0 M584.1 495.2 584.6 494.7 584.7 495.2"/>
<path fill="#e2f0cb" stroke="#c9e6a8" stroke-width="0.4" d="M516.7 458.2 517.2 458.2 517.7 458.2 518.0 457.5 518.5 457.3 519.1 457.8 519.9 457.8 520.0 458.7 520.3 459.5 520.1 459.9 519.7 460.7 519.1 460.3 518.1 459.9 517.7 459.3 517.4 458.4 516.9 458.8Z"/>
<path fill="#cfe8ad" stroke="#c4e3a0" stroke-width="0.3" d="M516.7 458.2 517.2 458.2 517.7 458.2 518.0 457.5 518.5 457.3 518.2 456.9 518.1 457.0 517.2 457.4 516.7 457.3 516.7 457.9Z"/>
<rect x="516.25" y="457.45" width="1.55" height="1.55" rx="0.4" fill="#355535"/>
</g>
<rect x="397" y="515" width="47.5" height="12.5" fill="#fff"/>
<text x="399" y="518.8" font-size="3.2" fill="#999">Visits</text>
<rect x="399" y="519.8" width="44" height="0.9" fill="#555"/>
<rect x="402.1" y="521.8" width="30.9" height="4.2" fill="url(#lg)"/>
<text x="399.2" y="525.4" font-size="3.6" font-weight="bold" fill="#222">1</text>
<text x="434.1" y="525.4" font-size="3.6" font-weight="bold" fill="#222">1,235</text>
<text x="33.39" y="39.5" font-size="11.9" fill="#6c6c6c" stroke="#6c6c6c" stroke-width="0.15" textLength="75.61" lengthAdjust="spacingAndGlyphs">www.repovz.si</text>
<text x="32.98" y="57.8" font-size="19.6" fill="#1e1e1e" stroke="#1e1e1e" stroke-width="0.55" textLength="104.04" lengthAdjust="spacingAndGlyphs">Dashboard</text>
<text x="472.20" y="45.3" font-size="17.2" fill="#444" stroke="#444" stroke-width="0.25" textLength="187.41" lengthAdjust="spacingAndGlyphs">Oct 9, 2010 - Nov 8, 2010</text>
<text x="563.59" y="58.2" font-size="11.9" fill="#8a8a8a"  textLength="96.21" lengthAdjust="spacingAndGlyphs">Comparing to: Site</text>
<text x="632.79" y="81.8" font-size="7.2" fill="#555"  textLength="16.64" lengthAdjust="spacingAndGlyphs">Visits</text>
<text x="32.19" y="221.1" font-size="12.0" fill="#fff" stroke="#fff" stroke-width="0.4" textLength="57.84" lengthAdjust="spacingAndGlyphs">Site Usage</text>
<text x="91.80" y="252.1" font-size="14.6" fill="#111" stroke="#111" stroke-width="0.4" textLength="32.62" lengthAdjust="spacingAndGlyphs">1,235</text>
<text x="129.17" y="252.1" font-size="9.7" fill="#1c1c1c" stroke="#1c1c1c" stroke-width="0.25" textLength="22.47" lengthAdjust="spacingAndGlyphs">Visits</text>
<text x="90.98" y="290.7" font-size="14.6" fill="#111" stroke="#111" stroke-width="0.4" textLength="33.64" lengthAdjust="spacingAndGlyphs">4,114</text>
<text x="130.00" y="290.7" font-size="9.7" fill="#1c1c1c" stroke="#1c1c1c" stroke-width="0.25" textLength="44.61" lengthAdjust="spacingAndGlyphs">Pageviews</text>
<text x="90.58" y="329.5" font-size="14.6" fill="#111" stroke="#111" stroke-width="0.4" textLength="26.42" lengthAdjust="spacingAndGlyphs">3.33</text>
<text x="121.19" y="329.5" font-size="9.7" fill="#1c1c1c" stroke="#1c1c1c" stroke-width="0.25" textLength="46.81" lengthAdjust="spacingAndGlyphs">Pages/Visit</text>
<text x="414.19" y="252.1" font-size="14.6" fill="#111" stroke="#111" stroke-width="0.4" textLength="47.02" lengthAdjust="spacingAndGlyphs">33.04%</text>
<text x="466.39" y="252.1" font-size="9.7" fill="#1c1c1c" stroke="#1c1c1c" stroke-width="0.25" textLength="55.01" lengthAdjust="spacingAndGlyphs">Bounce Rate</text>
<text x="414.19" y="290.7" font-size="14.6" fill="#111" stroke="#111" stroke-width="0.4" textLength="55.82" lengthAdjust="spacingAndGlyphs">00:01:42</text>
<text x="474.18" y="290.7" font-size="9.7" fill="#1c1c1c" stroke="#1c1c1c" stroke-width="0.25" textLength="73.24" lengthAdjust="spacingAndGlyphs">Avg. Time on Site</text>
<text x="414.78" y="329.5" font-size="14.6" fill="#111" stroke="#111" stroke-width="0.4" textLength="46.41" lengthAdjust="spacingAndGlyphs">77.81%</text>
<text x="466.79" y="329.5" font-size="9.7" fill="#1c1c1c" stroke="#1c1c1c" stroke-width="0.25" textLength="54.81" lengthAdjust="spacingAndGlyphs">% New Visits</text>
<text x="32.99" y="379.2" font-size="12.2" fill="#fff" stroke="#fff" stroke-width="0.4" textLength="90.01" lengthAdjust="spacingAndGlyphs">Visitors Overview</text>
<text x="355.00" y="379.2" font-size="12.2" fill="#fff" stroke="#fff" stroke-width="0.4" textLength="66.00" lengthAdjust="spacingAndGlyphs">Map Overlay</text>
<text x="297.58" y="407.5" font-size="7.0" fill="#b0b0b0"  textLength="21.24" lengthAdjust="spacingAndGlyphs">Visitors</text>
<text x="43.78" y="496.7" font-size="11.2" fill="#111" stroke="#111" stroke-width="0.15" textLength="34.24" lengthAdjust="spacingAndGlyphs">Visitors</text>
<text x="43.37" y="513.0" font-size="14.6" fill="#111" stroke="#111" stroke-width="0.4" textLength="34.63" lengthAdjust="spacingAndGlyphs">1,057</text>
</svg>


</body></html>
